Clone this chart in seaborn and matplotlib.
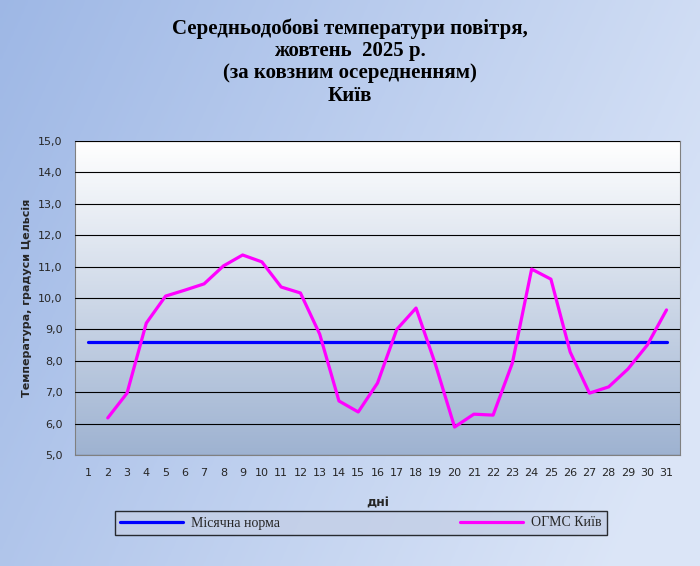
import numpy as np
import matplotlib
matplotlib.use("Agg")
import matplotlib.pyplot as plt
import seaborn as sns
import pandas as pd

days = list(range(1, 32))
kyiv = [np.nan, 6.18, 6.97, 9.2, 10.06, 10.25, 10.45, 11.02, 11.37, 11.15, 10.35, 10.16, 8.85,
        6.72, 6.37, 7.29, 9.0, 9.68, 7.9, 5.89, 6.3, 6.27, 7.93, 10.92, 10.6, 8.28, 6.97,
        7.17, 7.74, 8.5, 9.62]
norm = [8.6] * 31
yticks = np.arange(5.0, 15.01, 1.0)

df = pd.DataFrame({"day": days, "Місячна норма": norm, "ОГМС Київ": kyiv})

sns.set_style("white")
plt.rcParams['font.family'] = ['Liberation Serif', 'DejaVu Serif']
fig = plt.figure(figsize=(7, 5.66), dpi=100)

bg = fig.add_axes([0, 0, 1, 1], zorder=-10)
gx, gy = np.meshgrid(np.linspace(0, 1, 200), np.linspace(0, 1, 200))
g = np.clip(gx * 0.8 + gy * 0.3, 0, 1)
c0 = np.array([0.62, 0.72, 0.90]); c1 = np.array([0.86, 0.90, 0.97])
img = c0[None, None, :] * (1 - g[..., None]) + c1[None, None, :] * g[..., None]
bg.imshow(img, aspect='auto', extent=[0, 1, 0, 1], origin='upper')
bg.axis('off')

ax = fig.add_axes([75/700, 1-455/566, (680-75)/700, (455-141)/566])
pg = np.linspace(0, 1, 200)[:, None]
top = np.array([1.0, 1.0, 1.0]); bot = np.array([0.62, 0.70, 0.82])
pimg = top[None, None, :] * (1 - pg[..., None]) + bot[None, None, :] * pg[..., None]
ax.imshow(np.repeat(pimg, 2, axis=1), aspect='auto', extent=[0.3, 31.7, 5, 15], zorder=0)

sns.lineplot(data=df, x="day", y="Місячна норма", color="#0000ff", lw=2.3, ax=ax, label="Місячна норма", zorder=3)
sns.lineplot(data=df, x="day", y="ОГМС Київ", color="#ff00ff", lw=2.3, ax=ax, label="ОГМС Київ", zorder=4)

ax.set_xlim(0.3, 31.7)
ax.set_ylim(5, 15)
ax.set_yticks(yticks)
ax.set_yticklabels([f"{v:.1f}".replace('.', ',') for v in yticks], fontsize=8, family='DejaVu Sans')
ax.set_xticks(days)
ax.set_xticklabels([str(d) for d in days], fontsize=8, family='DejaVu Sans')
ax.grid(axis='y', color='black', lw=0.8)
ax.set_axisbelow(False)
for s in ax.spines.values():
    s.set_color('#808080'); s.set_linewidth(0.8)
ax.set_xlabel("дні", fontsize=9, fontweight='bold', family='DejaVu Sans', labelpad=14)
ax.set_ylabel("Температура, градуси Цельсія", fontsize=8, fontweight='bold', family='DejaVu Sans')
ax.tick_params(length=3, pad=6)

h, l = ax.get_legend_handles_labels()
ax.legend_.remove()
leg = fig.legend(h, l, loc='center', bbox_to_anchor=(361/700, 1-523/566), ncol=2,
                 fontsize=10, frameon=True, fancybox=False, edgecolor='black',
                 handlelength=4.5, columnspacing=13, borderpad=0.4, handletextpad=0.6,
                 borderaxespad=0)
leg.get_frame().set_facecolor('#c4cfe6')
leg.get_frame().set_boxstyle('square', pad=0)

fig.text(0.5, 1-62/566, "Середньодобові температури повітря,\nжовтень  2025 р.\n(за ковзним осередненням)\nКиїв",
         ha='center', va='center', fontsize=15, fontweight='bold', linespacing=1.15, color='black')

fig.savefig("out.png", dpi=100)
